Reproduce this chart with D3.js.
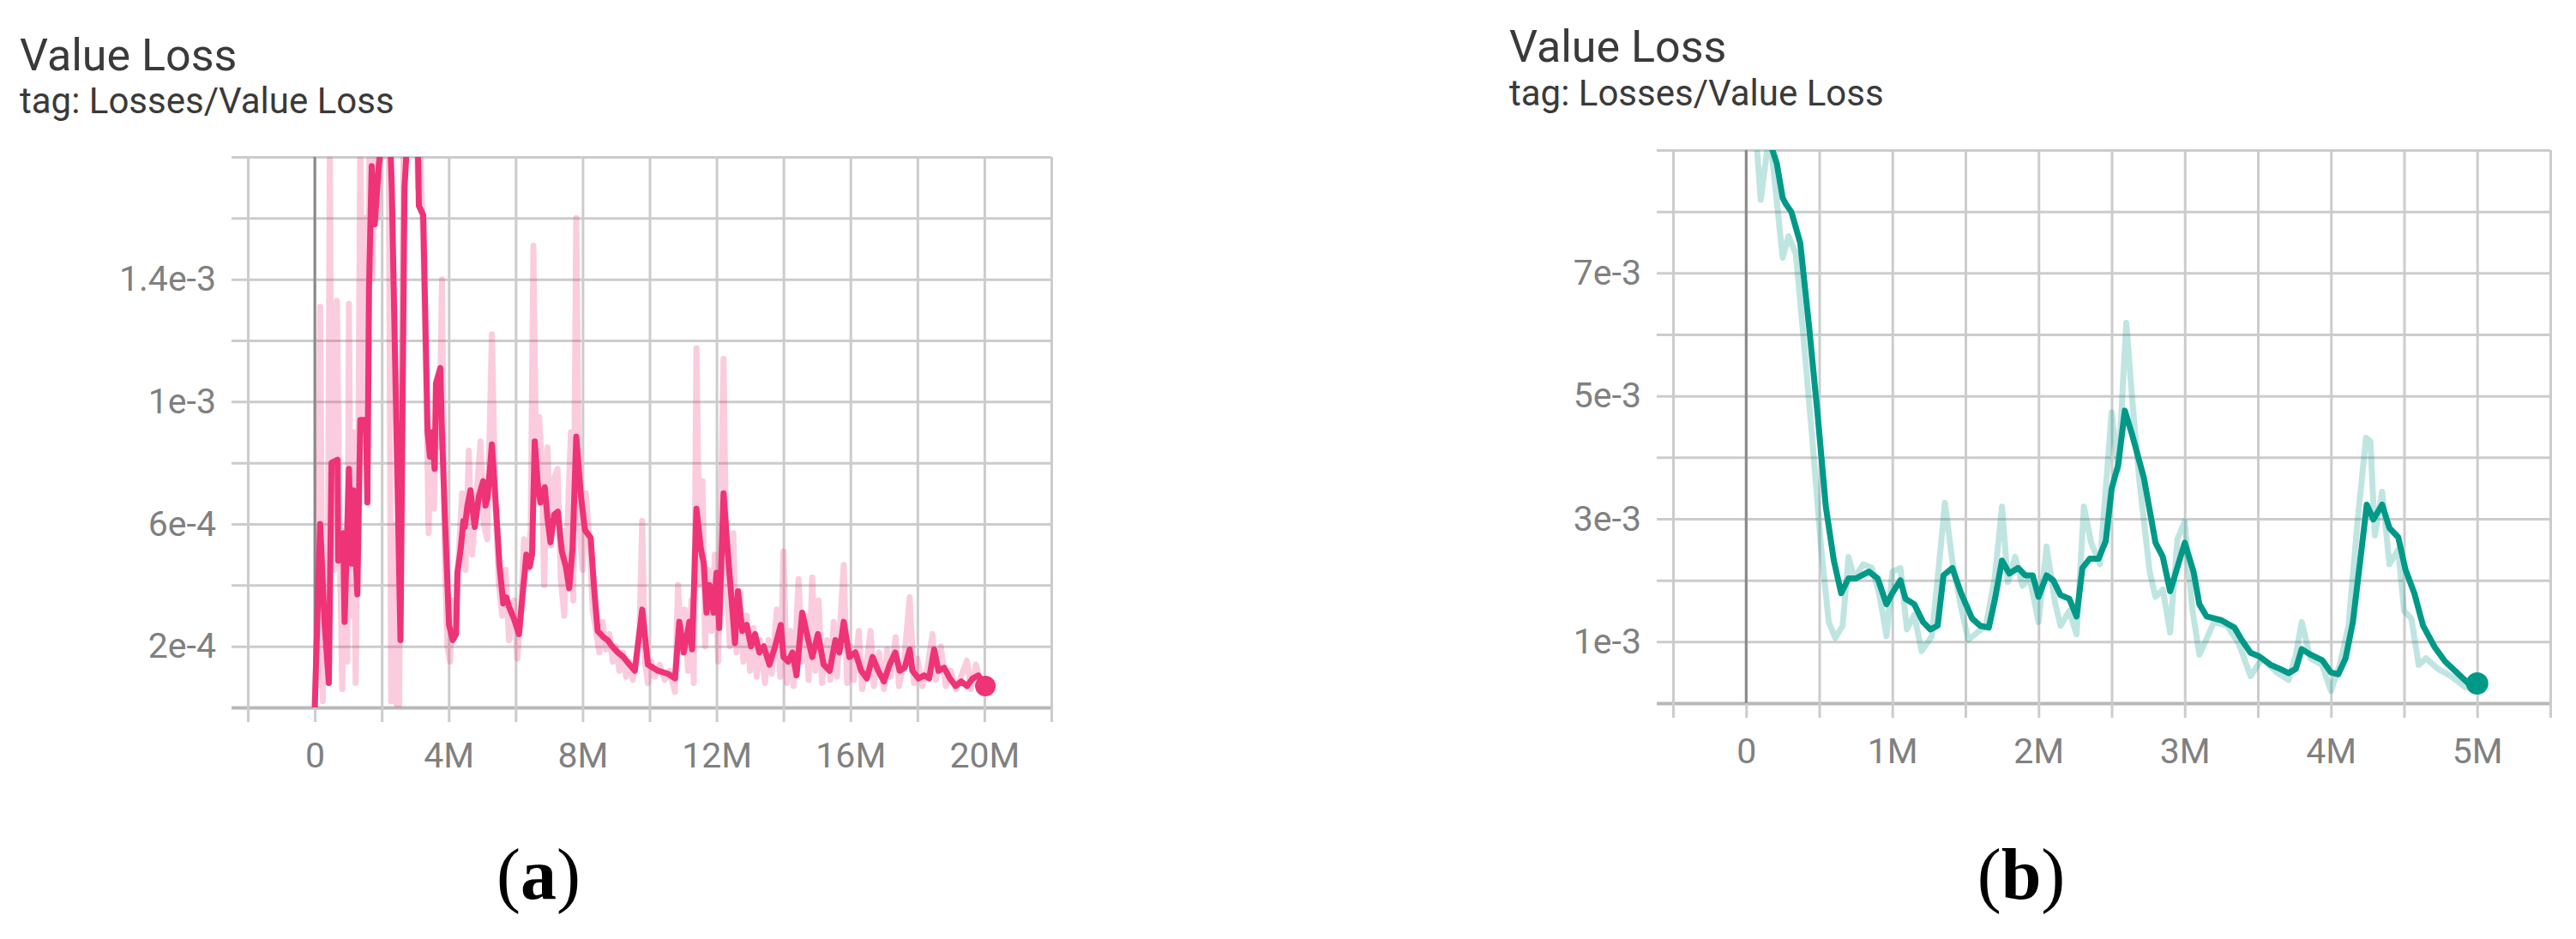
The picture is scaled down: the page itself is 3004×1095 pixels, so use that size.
<!DOCTYPE html>
<html>
<head>
<meta charset="utf-8">
<script src="https://cdn.jsdelivr.net/npm/d3@7"></script>
<style>
  body { margin: 0; background: #fff; }
  svg { display: block; }
</style>
</head>
<body>
<div id="chart"></div>
<script>
// panel (a): [step in M, loss in 1e-4]
var rawA = [[0,0],[0.08,3],[0.16,13.1],[0.24,0.2],[0.3,6],[0.38,2],[0.45,18.5],[0.5,8],[0.58,4.5],[0.66,13.3],[0.74,6],[0.82,0.6],[0.9,5],[0.97,1.5],[1.02,13.2],[1.08,3],[1.15,9],[1.22,0.8],[1.3,8],[1.36,19],[1.44,9],[1.5,16],[1.58,8],[1.64,20],[1.72,14],[1.8,19],[1.88,16],[1.96,20],[2.04,18],[2.12,22],[2.2,21],[2.28,0.2],[2.36,6],[2.44,0.1],[2.52,0],[2.6,12],[2.68,22],[2.76,19],[2.84,23],[2.92,20],[3.0,22],[3.08,17],[3.16,18],[3.24,15],[3.32,11],[3.4,5.7],[3.48,9],[3.56,6.5],[3.64,10],[3.72,8.5],[3.8,14],[3.88,5],[3.96,2],[4.04,1.5],[4.12,3.5],[4.2,2.5],[4.3,5],[4.4,7],[4.5,4.5],[4.6,8.4],[4.7,5],[4.8,6.5],[4.95,8.7],[5.05,6],[5.15,5.5],[5.29,12.2],[5.4,6.5],[5.5,4],[5.6,3],[5.7,4.5],[5.8,2.2],[5.95,3.5],[6.05,1.6],[6.15,3],[6.25,5.5],[6.35,4.5],[6.45,5.8],[6.53,15.1],[6.62,7],[6.7,9.5],[6.78,8],[6.85,4],[6.95,8.5],[7.05,5.3],[7.15,7.5],[7.25,7.8],[7.35,4.2],[7.45,3],[7.55,6],[7.65,9],[7.72,3.5],[7.81,16],[7.9,6],[8.0,4.5],[8.1,7],[8.2,5.5],[8.3,3.2],[8.4,2.5],[8.5,1.8],[8.6,2.8],[8.7,1.9],[8.8,2.4],[8.9,1.5],[9.0,2.0],[9.1,1.2],[9.2,1.8],[9.3,1.0],[9.4,1.5],[9.5,0.9],[9.6,1.6],[9.7,2.5],[9.78,6.1],[9.86,1.5],[9.95,0.8],[10.05,1.5],[10.15,1.0],[10.3,1.4],[10.45,0.9],[10.6,1.2],[10.76,0.5],[10.85,4.0],[10.95,1.8],[11.05,3.2],[11.15,1.2],[11.25,3.5],[11.32,0.8],[11.4,11.75],[11.5,4.0],[11.58,7.4],[11.66,2.0],[11.75,4.5],[11.85,2.5],[11.95,5.0],[12.05,1.5],[12.21,11.4],[12.3,4.0],[12.4,2.0],[12.5,5.7],[12.6,1.8],[12.7,3.8],[12.8,1.5],[12.9,3.0],[13.0,1.2],[13.1,2.6],[13.2,1.0],[13.3,2.2],[13.45,0.8],[13.55,2.2],[13.65,1.1],[13.8,3.2],[13.9,1.0],[14.0,5.1],[14.1,0.8],[14.2,2.5],[14.3,0.7],[14.45,4.2],[14.55,1.5],[14.65,3.0],[14.75,0.9],[14.86,4.25],[14.95,1.2],[15.05,3.5],[15.15,0.8],[15.3,2.2],[15.4,0.9],[15.5,2.8],[15.6,1.0],[15.8,4.66],[15.9,0.8],[16.0,2.0],[16.1,0.9],[16.25,2.5],[16.35,0.6],[16.5,1.6],[16.6,2.5],[16.7,0.7],[16.85,1.8],[17.0,0.6],[17.1,1.9],[17.2,1.0],[17.35,2.3],[17.45,0.7],[17.6,1.5],[17.77,3.6],[17.9,0.8],[18.0,1.6],[18.15,0.7],[18.3,1.3],[18.45,2.4],[18.55,0.9],[18.7,2.0],[18.85,0.7],[19.0,1.2],[19.15,0.6],[19.3,1.0],[19.48,1.53],[19.6,0.6],[19.75,1.4],[19.9,0.7],[20.0,0.8]];

var smoothA = [[0,0],[0.16,6.0],[0.29,2.8],[0.42,0.8],[0.5,8.0],[0.68,8.1],[0.7,4.8],[0.85,5.7],[0.89,2.8],[1.02,7.8],[1.1,4.7],[1.15,7.1],[1.27,3.7],[1.36,9.4],[1.53,9.4],[1.57,6.7],[1.62,13.7],[1.7,17.7],[1.79,15.8],[1.91,17.7],[2.04,19],[2.21,20],[2.3,17],[2.56,2.2],[2.68,17],[2.81,19.5],[3.07,19],[3.11,16.4],[3.24,16.1],[3.37,9.0],[3.44,8.2],[3.5,9.0],[3.58,7.8],[3.62,10.6],[3.75,11.1],[3.79,9.3],[3.88,6.4],[4.01,2.7],[4.12,2.2],[4.22,2.4],[4.26,4.4],[4.36,5.2],[4.44,6.1],[4.48,5.9],[4.56,6.6],[4.65,7.1],[4.72,6.4],[4.78,5.9],[4.9,6.9],[5.03,7.4],[5.1,6.6],[5.16,6.85],[5.29,8.6],[5.42,6.4],[5.52,4.6],[5.63,3.4],[5.72,3.6],[5.8,3.3],[5.95,2.9],[6.1,2.4],[6.2,3.6],[6.32,5.0],[6.42,4.6],[6.49,5.0],[6.57,8.7],[6.66,7.3],[6.74,6.7],[6.87,7.2],[6.95,6.2],[7.04,5.4],[7.15,6.3],[7.26,6.4],[7.38,5.1],[7.5,4.6],[7.6,3.9],[7.7,5.2],[7.81,8.85],[7.95,6.9],[8.07,5.8],[8.24,5.55],[8.35,3.8],[8.45,2.5],[8.62,2.3],[8.75,2.2],[8.88,2.0],[9.05,1.8],[9.22,1.65],[9.4,1.4],[9.56,1.2],[9.78,3.2],[9.95,1.4],[10.25,1.2],[10.55,1.1],[10.76,0.95],[10.89,2.8],[11.02,1.8],[11.19,2.8],[11.27,1.9],[11.4,6.5],[11.53,5.2],[11.62,4.7],[11.7,3.1],[11.79,4.0],[11.91,3.1],[12.0,4.4],[12.08,2.6],[12.21,7.0],[12.34,5.0],[12.46,3.4],[12.55,2.1],[12.64,3.8],[12.77,2.5],[12.9,2.7],[13.03,2.0],[13.15,2.4],[13.28,1.8],[13.41,2.0],[13.58,1.4],[13.75,2.0],[13.92,2.7],[14.0,1.65],[14.14,1.5],[14.27,1.8],[14.39,1.05],[14.56,3.1],[14.74,2.2],[14.86,1.65],[15.03,2.4],[15.2,1.4],[15.38,1.2],[15.55,2.2],[15.67,1.8],[15.8,2.8],[15.97,1.65],[16.15,1.8],[16.32,1.2],[16.49,0.95],[16.66,1.65],[16.83,1.2],[17.0,0.85],[17.17,1.4],[17.34,1.8],[17.47,1.2],[17.62,1.3],[17.77,1.9],[17.85,1.2],[18.03,0.95],[18.2,1.05],[18.35,0.95],[18.5,1.9],[18.63,1.2],[18.8,1.3],[18.97,0.95],[19.14,0.7],[19.31,0.85],[19.48,0.7],[19.65,0.95],[19.82,1.05],[20.03,0.7]];

// panel (b): [step in M, loss in 1e-3]
var rawB = [[0.05,9.8],[0.1,8.19],[0.16,9.3],[0.25,7.25],[0.29,7.6],[0.34,7.31],[0.39,6.02],[0.45,4.37],[0.51,2.61],[0.565,1.32],[0.61,1.06],[0.66,1.26],[0.7,2.38],[0.74,2.03],[0.8,2.26],[0.86,2.2],[0.91,1.79],[0.96,1.09],[1.0,2.14],[1.055,2.2],[1.1,1.2],[1.15,1.44],[1.2,0.85],[1.27,1.09],[1.31,2.03],[1.36,3.26],[1.41,2.32],[1.47,1.56],[1.52,1.03],[1.58,1.15],[1.64,1.26],[1.7,2.03],[1.75,3.2],[1.79,1.97],[1.84,2.38],[1.89,1.91],[1.94,2.03],[2.0,1.32],[2.055,2.55],[2.11,1.67],[2.15,1.26],[2.21,1.5],[2.26,1.12],[2.31,3.2],[2.36,2.61],[2.42,2.26],[2.5,4.73],[2.545,3.79],[2.6,6.19],[2.64,4.96],[2.69,3.61],[2.76,2.14],[2.8,1.73],[2.85,1.85],[2.9,1.15],[2.95,2.67],[3.0,2.96],[3.05,1.56],[3.1,0.79],[3.2,1.32],[3.29,1.26],[3.37,0.97],[3.45,0.44],[3.53,0.73],[3.63,0.5],[3.71,0.38],[3.76,0.79],[3.8,1.32],[3.86,0.73],[3.94,0.62],[4.0,0.2],[4.06,0.62],[4.12,1.26],[4.18,2.91],[4.24,4.32],[4.27,4.26],[4.3,2.73],[4.35,3.44],[4.4,2.26],[4.46,2.5],[4.5,1.5],[4.55,1.38],[4.6,0.62],[4.65,0.73],[4.73,0.56],[4.82,0.44],[4.92,0.26],[5.0,0.22]];

var smoothB = [[0.06,10.2],[0.12,9.8],[0.18,9.0],[0.21,8.78],[0.25,8.22],[0.27,8.13],[0.31,7.99],[0.37,7.49],[0.43,6.14],[0.49,4.67],[0.545,3.2],[0.6,2.32],[0.65,1.79],[0.7,2.03],[0.75,2.03],[0.84,2.14],[0.9,2.03],[0.96,1.61],[1.0,1.79],[1.055,2.0],[1.09,1.7],[1.15,1.61],[1.21,1.32],[1.26,1.2],[1.31,1.26],[1.35,2.08],[1.41,2.2],[1.47,1.79],[1.545,1.38],[1.6,1.26],[1.66,1.23],[1.7,1.67],[1.75,2.32],[1.8,2.11],[1.86,2.2],[1.91,2.08],[1.96,2.08],[2.0,1.73],[2.055,2.08],[2.1,2.0],[2.15,1.76],[2.21,1.7],[2.26,1.41],[2.3,2.2],[2.35,2.35],[2.41,2.35],[2.46,2.64],[2.5,3.49],[2.545,3.88],[2.59,4.76],[2.64,4.37],[2.72,3.67],[2.8,2.61],[2.85,2.38],[2.9,1.82],[3.0,2.61],[3.06,2.14],[3.1,1.61],[3.15,1.41],[3.25,1.35],[3.34,1.23],[3.39,1.03],[3.45,0.82],[3.51,0.76],[3.59,0.62],[3.65,0.56],[3.71,0.49],[3.76,0.56],[3.8,0.88],[3.86,0.79],[3.94,0.7],[4.0,0.5],[4.05,0.47],[4.1,0.73],[4.15,1.32],[4.2,2.32],[4.245,3.23],[4.29,2.99],[4.35,3.23],[4.4,2.85],[4.46,2.7],[4.51,2.17],[4.57,1.79],[4.63,1.26],[4.71,0.91],[4.78,0.68],[4.86,0.5],[4.94,0.32],[5.0,0.32]];

var titles = ["Value Loss", "Value Loss"];
var tags = ["tag: Losses/Value Loss", "tag: Losses/Value Loss"];
var captions = ["a", "b"];

var svg = d3.select("#chart")
    .append("svg")
    .attr("width", 3004)
    .attr("height", 1095);

var panels = [
    { raw: rawA, smooth: smoothA, unit: 1e-4, color: "#ee3377",
      xDomain: [-2, 22], xRange: [289, 1226], xLabelStep: 4,
      yDomain: [0, 1.8e-3], yRange: [825, 183], yTicks: 9,
      titleX: 23, titleY: 82, tagY: 132, dotR: 12, capX: 628 },
    { raw: rawB, smooth: smoothB, unit: 1e-3, color: "#009988",
      xDomain: [-0.5, 5.5], xRange: [1951, 2974], xLabelStep: 1,
      yDomain: [0, 9e-3], yRange: [820, 175], yTicks: 9,
      titleX: 1760, titleY: 72, tagY: 123, dotR: 13, capX: 2357 }
];

var yFmt = d3.format("~e");

panels.forEach(function(p, i) {
    var x = d3.scaleLinear().domain(p.xDomain).range(p.xRange);
    var y = d3.scaleLinear().domain(p.yDomain).range(p.yRange);
    var top = p.yRange[1], bottom = p.yRange[0];
    var left = p.xRange[0], right = p.xRange[1];
    var g = svg.append("g");

    // titles
    g.append("text")
        .attr("x", p.titleX).attr("y", p.titleY)
        .style("font-family", "Roboto").style("font-size", "52px")
        .style("fill", "#3a3a3a")
        .text(titles[i]);
    g.append("text")
        .attr("x", p.titleX).attr("y", p.tagY)
        .style("font-family", "Roboto").style("font-size", "42px")
        .style("fill", "#3a3a3a")
        .text(tags[i]);

    // y grid + labels
    var yt = y.ticks(p.yTicks);
    var yStep = yt[1] - yt[0];
    var yAxis = g.append("g")
        .attr("transform", "translate(" + (left - 19) + ",0)")
        .call(d3.axisLeft(y)
            .tickValues(yt)
            .tickSize(-(right - left + 19))
            .tickPadding(18)
            .tickFormat(function(d) {
                var k = Math.round(d / yStep);
                return (k % 2 === 1 && k < yt.length - 1) ? yFmt(d) : "";
            }));
    yAxis.select(".domain").remove();
    yAxis.selectAll(".tick line")
        .attr("stroke", function(d) { return d === 0 ? "#b8b8b8" : "#cccccc"; })
        .attr("stroke-width", function(d) { return d === 0 ? 4 : 3; });
    yAxis.selectAll(".tick text")
        .style("font-family", "Roboto").style("font-size", "41px")
        .style("fill", "#808080");

    // x grid + ticks + labels
    var xt = x.ticks(12);
    var xAxis = g.append("g")
        .attr("transform", "translate(0," + top + ")")
        .call(d3.axisBottom(x)
            .tickValues(xt)
            .tickSize(bottom - top + 17)
            .tickPadding(24)
            .tickFormat(function(d) {
                var r = d / p.xLabelStep;
                var ok = d >= 0 && Math.abs(r - Math.round(r)) < 1e-6 && d < p.xDomain[1];
                return ok ? (d === 0 ? "0" : d + "M") : "";
            }));
    xAxis.select(".domain").remove();
    xAxis.selectAll(".tick line")
        .attr("stroke", "#cccccc")
        .attr("stroke-width", 3);
    xAxis.selectAll(".tick text")
        .style("font-family", "Roboto").style("font-size", "41px")
        .style("fill", "#808080");

    // zero line
    g.append("line")
        .attr("x1", x(0)).attr("x2", x(0))
        .attr("y1", top).attr("y2", bottom)
        .attr("stroke", "#888888").attr("stroke-width", 3);

    // clip
    var clipId = "clip" + i;
    svg.append("clipPath").attr("id", clipId)
        .append("rect")
        .attr("x", left).attr("y", top)
        .attr("width", right - left).attr("height", bottom - top);

    var line = d3.line()
        .x(function(d) { return x(d[0]); })
        .y(function(d) { return y(d[1] * p.unit); });

    var plot = g.append("g").attr("clip-path", "url(#" + clipId + ")");
    plot.append("path")
        .datum(p.raw)
        .attr("d", line)
        .attr("fill", "none")
        .attr("stroke", p.color)
        .attr("stroke-opacity", 0.25)
        .attr("stroke-width", 7)
        .attr("stroke-linejoin", "round");
    plot.append("path")
        .datum(p.smooth)
        .attr("d", line)
        .attr("fill", "none")
        .attr("stroke", p.color)
        .attr("stroke-width", 7)
        .attr("stroke-linejoin", "round");

    var last = p.smooth[p.smooth.length - 1];
    g.append("circle")
        .attr("cx", x(last[0]))
        .attr("cy", y(last[1] * p.unit))
        .attr("r", p.dotR)
        .style("fill", p.color);

    // caption (a) / (b)
    var cap = g.append("text")
        .attr("x", p.capX).attr("y", 1048)
        .attr("text-anchor", "middle")
        .style("font-family", "Liberation Serif")
        .style("font-size", "84px")
        .style("fill", "#000");
    cap.append("tspan").text("(");
    cap.append("tspan").style("font-weight", "bold").text(captions[i]);
    cap.append("tspan").text(")");
});
</script>
</body>
</html>
